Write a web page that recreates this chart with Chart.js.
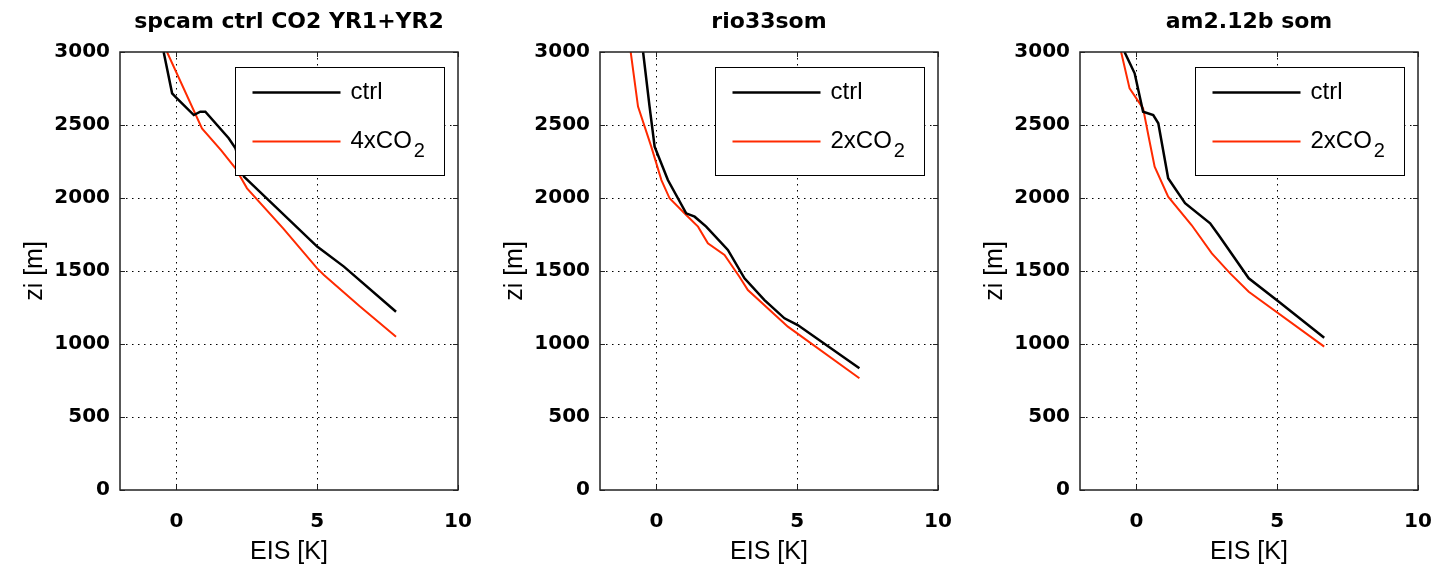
<!DOCTYPE html>
<html>
<head>
<meta charset="utf-8">
<script src="https://cdn.jsdelivr.net/npm/chart.js@4"></script>
<style>
  body { margin: 0; background: #fff; width: 1448px; height: 574px; overflow: hidden; position: relative; }
  canvas { position: absolute; top: 0; }
</style>
</head>
<body>
<canvas id="p1" width="480" height="574" style="left:0px"></canvas>
<canvas id="p2" width="480" height="574" style="left:480px"></canvas>
<canvas id="p3" width="480" height="574" style="left:960px"></canvas>
<script>
// EIS [K] against inversion height zi [m]

const xTicks = [0, 5, 10];
const yTicks = [0, 500, 1000, 1500, 2000, 2500, 3000];

// spcam ctrl CO2 YR1+YR2
const spcamCtrlEIS = [-0.45, -0.15, -0.04, 0.62, 0.85, 1.03, 1.86, 2.1, 2.4, 5.0, 5.95, 7.8];
const spcamCtrlZi  = [3000, 2717, 2694, 2568, 2591, 2591, 2409, 2340, 2146, 1667, 1530, 1221];
const spcam4xEIS   = [-0.33, 0.91, 1.6, 2.1, 2.51, 3.8, 5.0, 5.24, 6.5, 7.8];
const spcam4xZi    = [3000, 2477, 2325, 2203, 2066, 1790, 1518, 1473, 1260, 1050];

// rio33som
const rioCtrlEIS = [-0.47, -0.24, -0.06, 0.41, 1.06, 1.36, 1.77, 2.54, 3.13, 3.84, 4.55, 5.02, 7.21];
const rioCtrlZi  = [3000, 2626, 2352, 2123, 1895, 1872, 1804, 1644, 1450, 1301, 1176, 1130, 834];
const rio2xEIS   = [-0.91, -0.65, -0.18, 0.18, 0.47, 1.06, 1.48, 1.83, 2.42, 2.95, 3.25, 4.67, 7.21];
const rio2xZi    = [3000, 2626, 2352, 2123, 1998, 1884, 1804, 1690, 1610, 1461, 1370, 1119, 765];

// am2.12b som
const amCtrlEIS = [-0.42, -0.06, 0.24, 0.6, 0.78, 1.13, 1.73, 2.62, 2.92, 3.99, 5.06, 6.67];
const amCtrlZi  = [3000, 2854, 2591, 2568, 2512, 2135, 1964, 1827, 1747, 1450, 1290, 1043];
const am2xEIS   = [-0.54, -0.24, 0.24, 0.46, 0.65, 1.13, 1.96, 2.68, 3.33, 3.99, 6.67];
const am2xZi    = [3000, 2751, 2614, 2397, 2214, 2009, 1815, 1621, 1484, 1358, 982];

const CTRL_COLOR = '#000000';
const CO2_COLOR = '#ff2a00';

function toPoints(xs, zs) {
  return xs.map((x, i) => ({ x: x, y: zs[i] }));
}

// grid, box, inner tick marks, legend and text, matlab style
const matlabAxes = {
  id: 'matlabAxes',
  beforeDatasetsDraw(chart) {
    const ctx = chart.ctx;
    const a = chart.chartArea;
    const xs = chart.scales.x, ys = chart.scales.y;
    ctx.save();
    ctx.strokeStyle = '#000';
    ctx.lineWidth = 1;
    ctx.setLineDash([1.5, 4.5]);
    xTicks.forEach(v => {
      const px = Math.round(xs.getPixelForValue(v)) + 0.5;
      if (px < a.left + 2 || px > a.right - 2) return;
      ctx.beginPath(); ctx.moveTo(px, a.top); ctx.lineTo(px, a.bottom); ctx.stroke();
    });
    yTicks.forEach(v => {
      const py = Math.round(ys.getPixelForValue(v)) + 0.5;
      if (py < a.top + 2 || py > a.bottom - 2) return;
      ctx.beginPath(); ctx.moveTo(a.left, py); ctx.lineTo(a.right, py); ctx.stroke();
    });
    ctx.restore();
  },
  afterDatasetsDraw(chart, args, opts) {
    const ctx = chart.ctx;
    const a = chart.chartArea;
    const xs = chart.scales.x, ys = chart.scales.y;
    ctx.save();
    ctx.setLineDash([]);
    ctx.strokeStyle = '#222';
    ctx.lineWidth = 1.5;
    ctx.strokeRect(a.left, a.top, a.right - a.left, a.bottom - a.top);
    ctx.lineWidth = 1;
    const tl = 5;
    xTicks.forEach(v => {
      const px = Math.round(xs.getPixelForValue(v)) + 0.5;
      ctx.beginPath();
      ctx.moveTo(px, a.bottom); ctx.lineTo(px, a.bottom - tl);
      ctx.moveTo(px, a.top); ctx.lineTo(px, a.top + tl);
      ctx.stroke();
    });
    yTicks.forEach(v => {
      const py = Math.round(ys.getPixelForValue(v)) + 0.5;
      ctx.beginPath();
      ctx.moveTo(a.left, py); ctx.lineTo(a.left + tl, py);
      ctx.moveTo(a.right, py); ctx.lineTo(a.right - tl, py);
      ctx.stroke();
    });

    // legend box, top right inside the axes
    const bw = 209, bh = 108;
    const bx = Math.round(a.right - 14 - bw) + 0.5;
    const by = Math.round(a.top + 15) + 0.5;
    ctx.fillStyle = '#fff';
    ctx.fillRect(bx, by, bw, bh);
    ctx.strokeStyle = '#000';
    ctx.lineWidth = 1;
    ctx.strokeRect(bx, by, bw, bh);
    chart.data.datasets.forEach((ds, i) => {
      const ly = by + 25 + i * 49;
      ctx.strokeStyle = ds.borderColor;
      ctx.lineWidth = ds.borderWidth;
      ctx.beginPath(); ctx.moveTo(bx + 17, ly); ctx.lineTo(bx + 105, ly); ctx.stroke();
      ctx.fillStyle = '#000';
      ctx.textBaseline = 'middle';
      ctx.textAlign = 'left';
      ctx.font = '24px "Liberation Sans", Arial, sans-serif';
      const m = ds.label.match(/^(.*CO)(\d)$/);
      if (m) {
        ctx.fillText(m[1], bx + 115, ly);
        const w = ctx.measureText(m[1]).width;
        ctx.font = '20px "Liberation Sans", Arial, sans-serif';
        ctx.fillText(m[2], bx + 117 + w, ly + 10);
      } else {
        ctx.fillText(ds.label, bx + 115, ly);
      }
    });

    // title and axis labels
    const cx = (a.left + a.right) / 2;
    ctx.fillStyle = '#000';
    ctx.textAlign = 'center';
    ctx.textBaseline = 'middle';
    ctx.font = 'bold 22px "DejaVu Sans", sans-serif';
    ctx.fillText(opts.title, cx, 22);
    ctx.font = '25px "Liberation Sans", Arial, sans-serif';
    ctx.fillText('EIS [K]', cx, 552);
    ctx.translate(35, (a.top + a.bottom) / 2);
    ctx.rotate(-Math.PI / 2);
    ctx.fillText('zi [m]', 0, 0);
    ctx.restore();
  }
};

const tickFont = { family: '"DejaVu Sans", sans-serif', size: 20, weight: 'bold' };

function makePanel(canvasId, title, ctrlLabel, ctrlX, ctrlZ, co2Label, co2X, co2Z) {
  const ctx = document.getElementById(canvasId).getContext('2d');
  return new Chart(ctx, {
    type: 'scatter',
    data: {
      datasets: [
        {
          label: ctrlLabel,
          data: toPoints(ctrlX, ctrlZ),
          showLine: true,
          borderColor: CTRL_COLOR,
          borderWidth: 2.5,
          pointRadius: 0,
          tension: 0
        },
        {
          label: co2Label,
          data: toPoints(co2X, co2Z),
          showLine: true,
          borderColor: CO2_COLOR,
          borderWidth: 2,
          pointRadius: 0,
          tension: 0
        }
      ]
    },
    options: {
      responsive: false,
      animation: false,
      devicePixelRatio: 1,
      layout: { padding: { left: 0, right: 22, top: 52, bottom: 0 } },
      scales: {
        x: {
          type: 'linear',
          min: -2,
          max: 10,
          afterBuildTicks: scale => { scale.ticks = xTicks.map(v => ({ value: v })); },
          afterFit: scale => { scale.height = 84; scale.paddingLeft = 0; scale.paddingRight = 0; },
          grid: { display: false, drawTicks: false },
          border: { display: false },
          ticks: {
            color: '#000',
            padding: 20,
            maxRotation: 0,
            callback: v => String(v),
            font: tickFont
          }
        },
        y: {
          type: 'linear',
          min: 0,
          max: 3000,
          afterBuildTicks: scale => { scale.ticks = yTicks.map(v => ({ value: v })); },
          afterFit: scale => { scale.width = 120; scale.paddingTop = 0; scale.paddingBottom = 0; },
          grid: { display: false, drawTicks: false },
          border: { display: false },
          ticks: {
            color: '#000',
            padding: 10,
            callback: v => String(v),
            font: tickFont
          }
        }
      },
      plugins: {
        legend: { display: false },
        tooltip: { enabled: false },
        matlabAxes: { title: title }
      }
    },
    plugins: [matlabAxes]
  });
}

makePanel('p1', 'spcam ctrl CO2 YR1+YR2', 'ctrl', spcamCtrlEIS, spcamCtrlZi, '4xCO2', spcam4xEIS, spcam4xZi);
makePanel('p2', 'rio33som', 'ctrl', rioCtrlEIS, rioCtrlZi, '2xCO2', rio2xEIS, rio2xZi);
makePanel('p3', 'am2.12b som', 'ctrl', amCtrlEIS, amCtrlZi, '2xCO2', am2xEIS, am2xZi);
</script>
</body>
</html>
